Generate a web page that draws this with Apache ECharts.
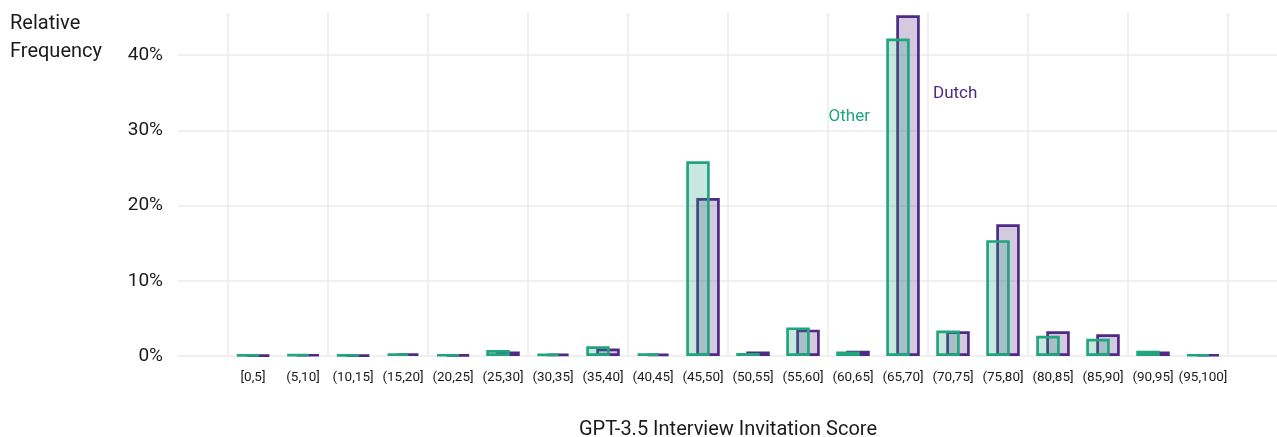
<!DOCTYPE html>
<html>
<head>
<meta charset="utf-8">
<script src="https://cdn.jsdelivr.net/npm/echarts@6/dist/echarts.min.js"></script>
<style>
  html, body { margin: 0; padding: 0; background: #fff; }
  #chart { width: 1277px; height: 437px; }
</style>
</head>
<body>
<div id="chart"></div>
<script>
// score bins, padded with one empty slot on each side
const categories = ["", "[0,5]", "(5,10]", "(10,15]", "(15,20]", "(20,25]", "(25,30]", "(30,35]",
  "(35,40]", "(40,45]", "(45,50]", "(50,55]", "(55,60]", "(60,65]", "(65,70]", "(70,75]",
  "(75,80]", "(80,85]", "(85,90]", "(90,95]", "(95,100]", ""];

// relative frequency in %
const otherValues = [null, 0.15, 0.25, 0.15, 0.35, 0.2, 0.8, 0.3, 1.3, 0.35, 25.9, 0.4, 3.8, 0.6,
  42.2, 3.4, 15.4, 2.7, 2.3, 0.7, 0.2, null];
const dutchValues = [null, 0.1, 0.2, 0.1, 0.35, 0.15, 0.6, 0.3, 1.0, 0.3, 21.0, 0.6, 3.5, 0.7,
  45.3, 3.3, 17.5, 3.3, 2.9, 0.6, 0.2, null];

const yTicks = [0, 10, 20, 30, 40];

const green = "#22a57f";
const purple = "#4e2a84";
const font = "Roboto";

const chart = echarts.init(document.getElementById("chart"));
chart.setOption({
  animation: false,
  textStyle: { fontFamily: font },
  title: {
    text: "Relative\nFrequency",
    left: 10,
    top: 10,
    padding: 0,
    textStyle: { fontFamily: font, fontSize: 20, fontWeight: "normal", color: "#1a1a1a", lineHeight: 28 }
  },
  grid: { left: 178, right: -1, top: 13, bottom: 81, outerBoundsMode: "none" },
  xAxis: {
    type: "category",
    data: categories,
    name: "GPT-3.5 Interview Invitation Score",
    nameLocation: "middle",
    nameGap: 64,
    nameTextStyle: { fontSize: 20, color: "#1a1a1a" },
    axisLine: { show: false },
    axisTick: { show: false },
    axisLabel: { fontSize: 13.5, color: "#1a1a1a", margin: 15, interval: 0 },
    splitLine: {
      show: true,
      interval: (index) => index % 2 === 1,
      lineStyle: { color: "#ebebeb", width: 1.5 }
    }
  },
  yAxis: {
    type: "value",
    min: yTicks[0],
    max: 45.6,
    interval: 10,
    axisLine: { show: false },
    axisTick: { show: false },
    axisLabel: {
      formatter: "{value}%",
      fontSize: 19,
      color: "#1a1a1a",
      margin: 15,
      showMaxLabel: false
    },
    splitLine: { show: true, showMaxLine: false, lineStyle: { color: "#ebebeb", width: 1.5 } }
  },
  series: [
    {
      name: "Other",
      type: "bar",
      data: otherValues,
      z: 3,
      barWidth: 23.5,
      barGap: "-57.4%",
      itemStyle: { color: "rgba(34,165,127,0.25)", borderColor: green, borderWidth: 2.7 },
      markPoint: {
        symbol: "circle",
        symbolSize: 0,
        data: [{ coord: ["(65,70]", 31.8] }],
        label: {
          show: true,
          formatter: "Other",
          color: green,
          fontSize: 17,
          align: "right",
          offset: [-28, 0]
        }
      }
    },
    {
      name: "Dutch",
      type: "bar",
      data: dutchValues,
      z: 2,
      barWidth: 23.5,
      barGap: "-57.4%",
      itemStyle: { color: "rgba(78,42,132,0.25)", borderColor: purple, borderWidth: 2.7 },
      markPoint: {
        symbol: "circle",
        symbolSize: 0,
        data: [{ coord: ["(65,70]", 34.9] }],
        label: {
          show: true,
          formatter: "Dutch",
          color: purple,
          fontSize: 17,
          align: "left",
          offset: [25, 0]
        }
      }
    }
  ]
});
</script>
</body>
</html>
